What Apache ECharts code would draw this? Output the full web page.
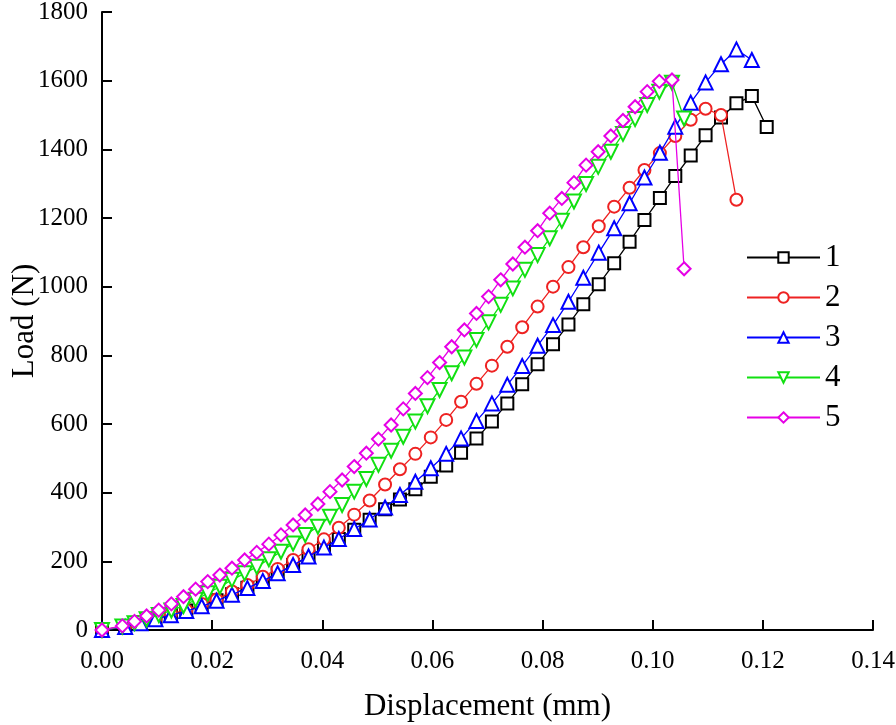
<!DOCTYPE html>
<html>
<head>
<meta charset="utf-8">
<script src="https://cdn.jsdelivr.net/npm/echarts@6/dist/echarts.min.js"></script>
<style>html,body{margin:0;padding:0;background:#fff;}#c{width:896px;height:725px;}</style>
</head>
<body>
<div id="c"></div>
<script>
// Displacement (mm) grids
var dispA = [0, 0.0042, 0.0070, 0.0097, 0.0125, 0.0153, 0.0181, 0.0208, 0.0236, 0.0264, 0.0292, 0.0319, 0.0347, 0.0375, 0.0403, 0.0430, 0.0458, 0.0486, 0.0514, 0.0541, 0.0569, 0.0597, 0.0625, 0.0652, 0.0680, 0.0708, 0.0736, 0.0763, 0.0791, 0.0819, 0.0847, 0.0874, 0.0902, 0.0930, 0.0958, 0.0985, 0.1013, 0.1041, 0.1069, 0.1096, 0.1124, 0.1152, 0.1180, 0.1207];
var dispB = [0, 0.0037, 0.0059, 0.0081, 0.0103, 0.0126, 0.0148, 0.0170, 0.0192, 0.0214, 0.0236, 0.0259, 0.0281, 0.0303, 0.0325, 0.0347, 0.0369, 0.0392, 0.0414, 0.0436, 0.0458, 0.0480, 0.0502, 0.0525, 0.0547, 0.0569, 0.0591, 0.0613, 0.0635, 0.0658, 0.0680, 0.0702, 0.0724, 0.0746, 0.0768, 0.0791, 0.0813, 0.0835, 0.0857, 0.0879, 0.0901, 0.0924, 0.0946, 0.0968, 0.0990, 0.1012, 0.1035, 0.1057];

// Load (N)
var load1 = [0, 10, 22, 33, 45, 57, 71, 87, 104, 123, 143, 165, 189, 214, 240, 265, 292, 321, 352, 380, 410, 446, 479, 516, 558, 607, 660, 716, 774, 832, 890, 949, 1007, 1068, 1131, 1194, 1258, 1322, 1382, 1441, 1493, 1534, 1555, 1465];
var load2 = [0, 10, 24, 34, 47, 58, 76, 89, 112, 131, 155, 178, 204, 235, 264, 298, 336, 377, 424, 468, 513, 561, 612, 665, 717, 770, 825, 882, 942, 1000, 1057, 1115, 1176, 1233, 1288, 1340, 1389, 1439, 1486, 1518, 1500, 1253];
var load3 = [0, 9, 20, 31, 43, 55, 69, 85, 103, 122, 143, 165, 189, 214, 240, 265, 294, 322, 357, 393, 432, 471, 513, 558, 609, 660, 714, 769, 828, 888, 956, 1026, 1099, 1170, 1243, 1318, 1390, 1466, 1536, 1595, 1648, 1691, 1660];
var load4 = [0, 10, 20, 31, 44, 57, 70, 88, 107, 126, 146, 165, 184, 206, 228, 252, 277, 301, 330, 364, 403, 440, 481, 522, 563, 607, 652, 699, 748, 794, 845, 896, 947, 995, 1049, 1092, 1141, 1192, 1248, 1299, 1349, 1393, 1445, 1488, 1529, 1568, 1594, 1490];
var load5 = [0, 12, 25, 41, 58, 76, 97, 119, 141, 160, 180, 204, 226, 250, 277, 306, 335, 367, 403, 437, 476, 515, 556, 597, 644, 689, 735, 779, 825, 874, 922, 971, 1020, 1066, 1115, 1163, 1214, 1257, 1303, 1354, 1393, 1439, 1484, 1524, 1568, 1598, 1602, 1052];

var names = ['1', '2', '3', '4', '5'];
var colors = ['#000000', '#ee2222', '#0000ff', '#11e011', '#e600e6'];
var symbols = ['emptyRect', 'emptyCircle', 'emptyTriangle', 'emptyTriangle', 'emptyDiamond'];
var rotations = [0, 0, 0, 180, 0];
var sizes = [12, 12, 14, 14, 13];

function pairs(xs, ys) {
  var out = [];
  for (var i = 0; i < ys.length; i++) out.push([xs[i], ys[i]]);
  return out;
}
var seriesData = [pairs(dispA, load1), pairs(dispA, load2), pairs(dispA, load3), pairs(dispB, load4), pairs(dispB, load5)];

var font = 'Liberation Serif';
var chart = echarts.init(document.getElementById('c'));
var series = seriesData.map(function (d, i) {
  return {
    name: names[i],
    type: 'line',
    data: d,
    symbol: symbols[i],
    symbolRotate: rotations[i],
    symbolSize: sizes[i],
    showAllSymbol: true,
    lineStyle: { color: colors[i], width: 1.3 },
    itemStyle: { color: colors[i], borderColor: colors[i], borderWidth: 1.2 },
    emphasis: { disabled: true },
    z: 2 + i
  };
});

chart.setOption({
  animation: false,
  backgroundColor: '#ffffff',
  grid: { left: 102, right: 23, top: 12, bottom: 95, containLabel: false, outerBoundsMode: 'none' },
  legend: {
    data: names,
    orient: 'vertical',
    left: 741,
    top: 237,
    itemWidth: 73,
    itemHeight: 13,
    itemGap: 9,
    textStyle: { fontFamily: font, fontSize: 31, color: '#000', lineHeight: 30, padding: [0, 0, 0, 0] }
  },
  xAxis: {
    type: 'value',
    min: 0, max: 0.14, interval: 0.02,
    name: 'Displacement (mm)',
    nameLocation: 'middle',
    nameGap: 61,
    nameMoveOverlap: false,
    nameTextStyle: { fontFamily: font, fontSize: 31, color: '#000' },
    axisLine: { show: true, onZero: false, lineStyle: { color: '#000', width: 2 } },
    axisTick: { show: true, inside: true, length: 10, lineStyle: { color: '#000', width: 2 } },
    axisLabel: { fontFamily: font, fontSize: 25, color: '#000', margin: 19, formatter: function (v) { return v.toFixed(2); } },
    splitLine: { show: false }
  },
  yAxis: {
    type: 'value',
    min: 0, max: 1800, interval: 200,
    name: 'Load (N)',
    nameLocation: 'middle',
    nameGap: 62,
    nameMoveOverlap: false,
    nameTextStyle: { fontFamily: font, fontSize: 31, color: '#000' },
    axisLine: { show: true, onZero: false, lineStyle: { color: '#000', width: 2 } },
    axisTick: { show: true, inside: true, length: 10, lineStyle: { color: '#000', width: 2 } },
    axisLabel: { fontFamily: font, fontSize: 25, color: '#000', margin: 14, formatter: function (v) { return String(v); } },
    splitLine: { show: false }
  },
  series: series
});
</script>
</body>
</html>
